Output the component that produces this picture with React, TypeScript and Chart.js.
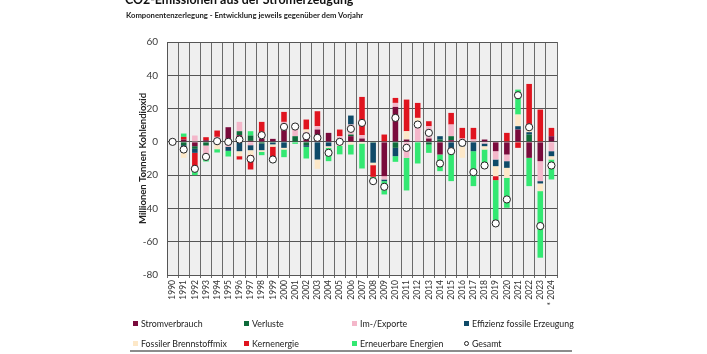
import React, { useEffect, useRef } from "react";
import { Chart, registerables } from "chart.js";
Chart.register(...registerables);

const years = ["1990","1991","1992","1993","1994","1995","1996","1997","1998","1999","2000","2001","2002","2003","2004","2005","2006","2007","2008","2009","2010","2011","2012","2013","2014","2015","2016","2017","2018","2019","2020","2021","2022","2023","* 2024"];

const stromverbrauch = [0,1.4,-2.6,1,1.4,8.8,4,0.6,2,1.8,10,0,4,7.4,5.4,1.4,3.4,2,0,-20.6,21,1.4,0,2,-7.6,1,0,0,1.4,-5.6,-7.6,7.4,-9.6,-11.6,3.4];
const verluste = [0,-2,-1.6,-2.2,0,-1,2.4,3.2,-1,-0.5,0,3.4,-2,0,0,0,1,0,-0.5,0,-3.6,0,0,-1.6,1.4,2.4,0,0,0,0,0,0,4.4,0,0];
const imExporte = [0,0,3.8,-5,1.6,-2,5.6,-2,2,0,2,5,2,2,0,2,6,2,0,-2,2.4,-9.6,9,7.4,0,7,2,1.4,-1,-5,-4,0,0,-12,-5.6];
const effizienz = [0,-3.6,-2.4,-1.6,0,-2.4,-5.6,-3,-4,-1,-3.6,0,-1,-10.6,-2.6,-1,5.4,0,-12,-1,-5,0,0,0,2,-6,-2.6,-5.6,-1.6,-4,-4,2,1.4,-1.4,-3];
const brennstoffmix = [0,-4,0,0,-4.4,0,-3,-3,-1,-1.4,-1,2,1.4,-5.6,-1,-1.5,-1.6,-1,-1.5,0,0,5,5.4,0,0,0,-7,0,-2,-6,-6,7,3,-4.6,-2];
const kernenergie = [0,1.6,-10,1.8,3.8,0,-2,-8.6,8,-7,6,0,6,9,0,4,0,23,-7,4.4,3,19,9,3,0,7,6.4,7,0,-2.4,5.4,-3.6,26,19.4,5];
const erneuerbare = [0,2,-3.4,-3,-2,-3.4,0,2.6,-2,-2.5,-4.6,-1.2,-7,0,-8,-5,-6,-15,-2.5,-8,-3.4,-19.6,-13,-5,-10,-17.6,0,-21,-11,-26,-18,15,-17,-40,-12];
const gesamt = [0,-4.6,-16.2,-9,0.4,0,1.4,-10.2,4,-10.6,9,9.2,3.4,2.4,-6.6,0,7.8,11.4,-23.6,-27,14.4,-3.6,10.4,5.4,-13,-5.6,-0.6,-18.2,-14.2,-49,-34.6,28,8.8,-50.6,-14.2];

const seriesNames = ["Stromverbrauch","Verluste","Im-/Exporte","Effizienz fossile Erzeugung","Fossiler Brennstoffmix","Kernenergie","Erneuerbare Energien","Gesamt"];
const seriesColors = ["#7a0b3c","#0e6b3a","#f4b7ca","#0f4a68","#fde8c8","#e0141f","#33e872","#ffffff"];

const FONT = "Lato, 'Liberation Sans', sans-serif";

const bgPlugin = {
  id: "plotBg",
  beforeDraw(chart: any) {
    const { ctx, chartArea: a } = chart;
    ctx.save();
    ctx.fillStyle = "#efefef";
    ctx.fillRect(a.left, a.top, a.right - a.left, a.bottom - a.top);
    ctx.restore();
  },
};

export default function App() {
  const ref = useRef<HTMLCanvasElement>(null);
  useEffect(() => {
    if (!ref.current) return;
    const barSets = [stromverbrauch, verluste, imExporte, effizienz, brennstoffmix, kernenergie, erneuerbare];
    const datasets: any[] = barSets.map((d, i) => ({
      type: "bar",
      label: seriesNames[i],
      data: d,
      backgroundColor: seriesColors[i],
      borderWidth: 0,
      order: 1,
      categoryPercentage: 1,
      barPercentage: 0.5,
    }));
    datasets.push({
      type: "line",
      label: seriesNames[7],
      data: gesamt,
      showLine: false,
      pointRadius: 3.6,
      pointBackgroundColor: "#ffffff",
      pointBorderColor: "#222222",
      pointBorderWidth: 1,
      order: 0,
    });
    const chart = new Chart(ref.current, {
      type: "bar",
      data: { labels: years, datasets },
      plugins: [bgPlugin],
      options: {
        animation: false,
        responsive: false,
        maintainAspectRatio: false,
        layout: { padding: { left: 0, top: 42, right: 150, bottom: 0 } },
        plugins: { legend: { display: false }, tooltip: { enabled: false }, title: { display: false } },
        scales: {
          x: {
            stacked: true,
            grid: { offset: true, color: "#6a6a6a", lineWidth: 1, tickLength: 3 },
            border: { color: "#555555" },
            ticks: { minRotation: 90, maxRotation: 90, autoSkip: false, padding: 2, color: "#333333", font: { family: FONT, size: 8.5 } },
            afterFit: (s: any) => { s.height = 79; },
          },
          y: {
            stacked: true,
            min: -80,
            max: 60,
            grid: { color: "#555555", lineWidth: 1, drawTicks: false },
            border: { color: "#555555" },
            ticks: { stepSize: 20, padding: 9, color: "#3a3a3a", font: { family: FONT, size: 10 } },
            title: { display: true, text: "Millionen Tonnen Kohlendioxid", color: "#222222", font: { family: FONT, size: 9.5, weight: "bold" }, padding: { top: 137, bottom: 0 } },
            afterFit: (s: any) => { s.width = 167; },
          },
        },
      },
    });
    return () => chart.destroy();
  }, []);

  const legendPos = [
    [133, 323], [244, 323], [352, 323], [464, 323],
    [133, 343], [244, 343], [352, 343], [464, 343],
  ];

  return (
    <div style={{ position: "fixed", left: 0, top: 0, width: 707, height: 354, background: "#ffffff", overflow: "hidden", fontFamily: FONT }}>
      <canvas ref={ref} width={707} height={354} style={{ position: "absolute", left: 0, top: 0, width: 707, height: 354 }} />
      <div style={{ position: "absolute", left: 125, top: -8, fontSize: 12.4, fontWeight: 700, color: "#111", whiteSpace: "nowrap" }}>CO2-Emissionen aus der Stromerzeugung</div>
      <div style={{ position: "absolute", left: 126, top: 10, fontSize: 7.7, fontWeight: 700, color: "#222", whiteSpace: "nowrap" }}>Komponentenzerlegung  - Entwicklung jeweils gegenüber dem Vorjahr</div>
      {seriesNames.map((n, i) => (
        <div key={n} style={{ position: "absolute", left: legendPos[i][0], top: legendPos[i][1] - 7, height: 14, display: "flex", alignItems: "center", fontSize: 8.8, color: "#222", whiteSpace: "nowrap" }}>
          {i < 7 ? (
            <span style={{ display: "inline-block", width: 5, height: 5, background: seriesColors[i], marginRight: 3 }} />
          ) : (
            <span style={{ display: "inline-block", width: 5, height: 5, borderRadius: "50%", border: "1px solid #222", boxSizing: "border-box", marginRight: 3 }} />
          )}
          {n}
        </div>
      ))}
      <div style={{ position: "absolute", left: 130, top: 350, width: 442, height: 2, background: "#8c8c8c" }} />
    </div>
  );
}
